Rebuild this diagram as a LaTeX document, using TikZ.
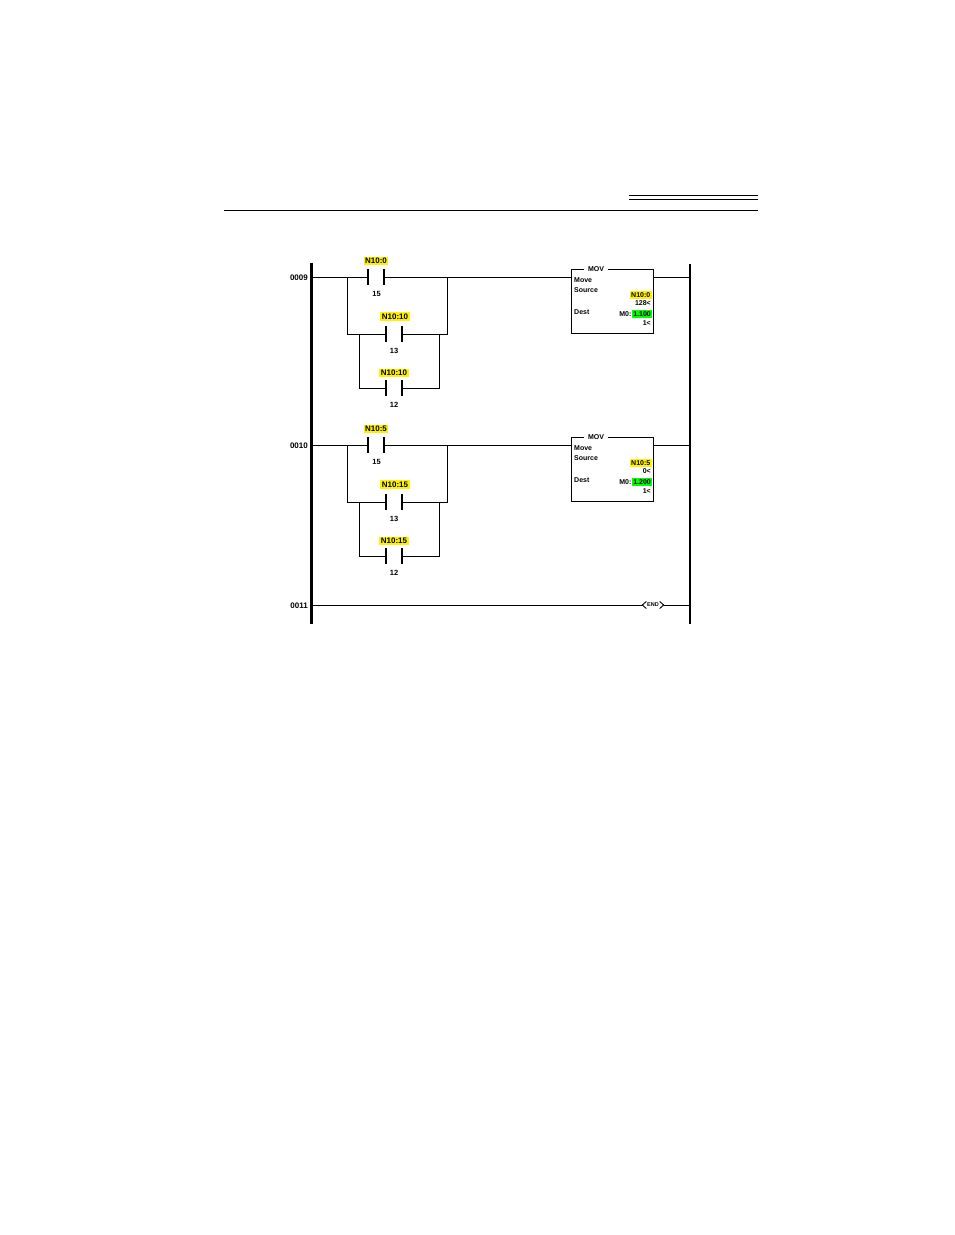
\documentclass[tikz,border=0pt]{standalone}
\usepackage{fontspec}
\setmainfont{Liberation Sans}
\begin{document}
\begin{tikzpicture}[x=1pt,y=-1pt,
  wire/.style={line width=0.9pt},
  rail/.style={line width=2.4pt},
  contact/.style={minimum width=15pt,minimum height=14pt,inner sep=0pt},
  bracket/.style={line width=1.8pt},
  tag/.style={fill=yellow,font=\bfseries\fontsize{8}{8}\selectfont,inner xsep=1.6pt,inner ysep=1.5pt,text height=5.8pt,text depth=0pt},
  num/.style={font=\bfseries\fontsize{7.5}{8}\selectfont},
  rungno/.style={font=\bfseries\fontsize{8}{8}\selectfont,anchor=east,inner sep=0pt},
  movbox/.style={draw,line width=0.9pt,minimum width=81.5pt,minimum height=64pt,inner sep=0pt},
  boxtxt/.style={font=\bfseries\fontsize{7}{7}\selectfont,inner sep=0pt},
  srctag/.style={fill=yellow,font=\bfseries\fontsize{7}{7}\selectfont,inner xsep=1.5pt,inner ysep=1.5pt,text height=5pt,text depth=0pt,anchor=east},
  dsttag/.style={fill=green,font=\bfseries\fontsize{7}{7}\selectfont,inner xsep=1.5pt,inner ysep=1.5pt,text height=5pt,text depth=0pt,anchor=east},
  hline/.style={line width=0.9pt}
]
\useasboundingbox (0,0) rectangle (954,1235);

% header lines
\coordinate (h1a) at (629,195.3); \coordinate (h1b) at (758,195.3);
\coordinate (h2a) at (629,199.3); \coordinate (h2b) at (758,199.3);
\coordinate (h3a) at (224,210);   \coordinate (h3b) at (758,210);
\draw[hline] (h1a) -- (h1b);
\draw[hline] (h2a) -- (h2b);
\draw[hline] (h3a) -- (h3b);

% rails
\coordinate (LT) at (311.5,263); \coordinate (LB) at (311.5,624);
\coordinate (RT) at (690,264);   \coordinate (RB) at (690,624);
\draw[rail] (LT) -- (LB);
\draw[rail] (RT) -- (RB);

% ---------------- rung 0009 ----------------
\coordinate (L9) at (311.5,277); \coordinate (R9) at (690,277);
\node[rungno] (n9) at (308,277.5) {0009};
\node[contact] (c91) at (376,277) {};
\node[contact] (c92) at (394,334) {};
\node[contact] (c93) at (394,388) {};
\node[tag] (t91) at (376,261) {N10:0};
\node[tag] (t92) at (395,316.5) {N10:10};
\node[tag] (t93) at (394,373) {N10:10};
\node[num] (b91) at (376.5,294) {15};
\node[num] (b92) at (394,350.5) {13};
\node[num] (b93) at (394,405) {12};
\coordinate (j91) at (347,277); \coordinate (j92) at (447,277);
\coordinate (j93) at (359,334); \coordinate (j94) at (439,334);

\node[movbox] (mov9) at (612.25,301) {};
\node[boxtxt,fill=white,inner xsep=4pt,inner ysep=1pt] (mt9) at (596,269) {MOV};
\node[boxtxt,anchor=west] (mv9) at (574,280.5) {Move};
\node[boxtxt,anchor=west] (ms9) at (574,290) {Source};
\node[srctag] (sv9) at (652,295) {N10:0};
\node[boxtxt,anchor=east] (sn9) at (651,303.5) {128<};
\node[boxtxt,anchor=west] (md9) at (574,312.5) {Dest};
\node[dsttag] (dv9) at (652.5,314) {1.100};
\node[boxtxt,anchor=east] (dm9) at (dv9.west) {M0:};
\node[boxtxt,anchor=east] (dn9) at (651,323.5) {1<};

\draw[wire] (L9) -- (c91.west);
\draw[wire] (c91.east) -- (c91.east -| mov9.west);
\draw[wire] (mov9.east |- R9) -- (R9);
\draw[wire] (j91) |- (c92.west);
\draw[wire] (c92.east) -| (j92);
\draw[wire] (j93) |- (c93.west);
\draw[wire] (c93.east) -| (j94);

% ---------------- rung 0010 ----------------
\coordinate (L10) at (311.5,445); \coordinate (R10) at (690,445);
\node[rungno] (n10) at (308,445.5) {0010};
\node[contact] (c101) at (376,445) {};
\node[contact] (c102) at (394,502) {};
\node[contact] (c103) at (394,556) {};
\node[tag] (t101) at (376,429) {N10:5};
\node[tag] (t102) at (395,484.5) {N10:15};
\node[tag] (t103) at (394,541) {N10:15};
\node[num] (b101) at (376.5,462) {15};
\node[num] (b102) at (394,518.5) {13};
\node[num] (b103) at (394,573) {12};
\coordinate (j101) at (347,445); \coordinate (j102) at (447,445);
\coordinate (j103) at (359,502); \coordinate (j104) at (439,502);

\node[movbox] (mov10) at (612.25,469) {};
\node[boxtxt,fill=white,inner xsep=4pt,inner ysep=1pt] (mt10) at (596,437) {MOV};
\node[boxtxt,anchor=west] (mv10) at (574,448.5) {Move};
\node[boxtxt,anchor=west] (ms10) at (574,458) {Source};
\node[srctag] (sv10) at (652,463) {N10:5};
\node[boxtxt,anchor=east] (sn10) at (651,471.5) {0<};
\node[boxtxt,anchor=west] (md10) at (574,480.5) {Dest};
\node[dsttag] (dv10) at (652.5,482) {1.200};
\node[boxtxt,anchor=east] (dm10) at (dv10.west) {M0:};
\node[boxtxt,anchor=east] (dn10) at (651,491.5) {1<};

\draw[wire] (L10) -- (c101.west);
\draw[wire] (c101.east) -- (c101.east -| mov10.west);
\draw[wire] (mov10.east |- R10) -- (R10);
\draw[wire] (j101) |- (c102.west);
\draw[wire] (c102.east) -| (j102);
\draw[wire] (j103) |- (c103.west);
\draw[wire] (c103.east) -| (j104);

% contact brackets
\foreach \c in {c91,c92,c93,c101,c102,c103}{
  \draw[bracket] ([xshift=-1.5pt]\c.north west) -- (\c.north west) -- (\c.south west) -- ++(-1.5pt,0);
  \draw[bracket] ([xshift=1.5pt]\c.north east) -- (\c.north east) -- (\c.south east) -- ++(1.5pt,0);
}

% ---------------- rung 0011 ----------------
\coordinate (L11) at (311.5,605); \coordinate (R11) at (690,605);
\node[rungno] (n11) at (308,605.5) {0011};
\node[font=\bfseries\fontsize{5.5}{6}\selectfont,minimum width=21pt,minimum height=7pt,inner sep=0pt] (endn) at (653,605) {END};
\draw[wire] (L11) -- (endn.west);
\draw[wire] (endn.east) -- (R11);
\draw[wire] ([xshift=4pt,yshift=-3.5pt]endn.west) -- (endn.west) -- ([xshift=4pt,yshift=3.5pt]endn.west);
\draw[wire] ([xshift=-4pt,yshift=-3.5pt]endn.east) -- (endn.east) -- ([xshift=-4pt,yshift=3.5pt]endn.east);
\end{tikzpicture}
\end{document}
